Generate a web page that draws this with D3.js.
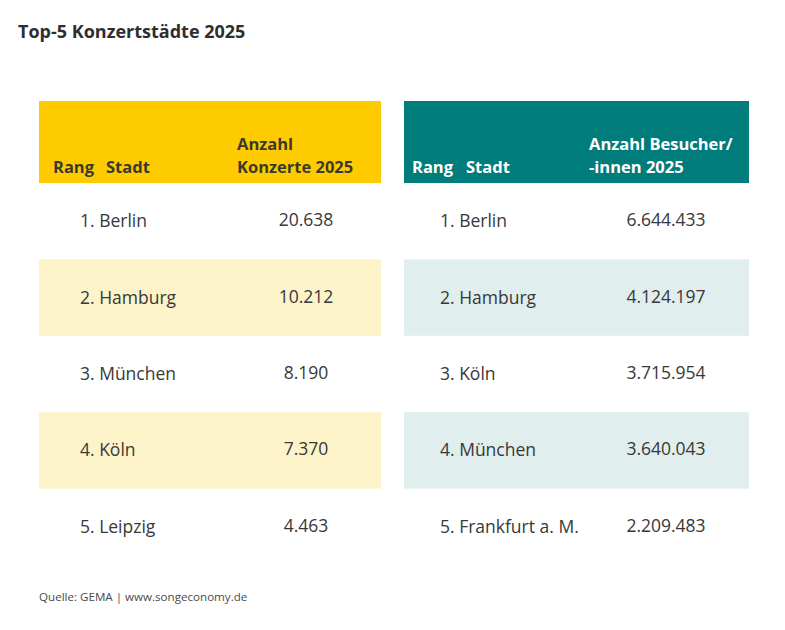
<!DOCTYPE html>
<html><head><meta charset="utf-8">
<script src="https://cdn.jsdelivr.net/npm/d3@7"></script>
<style>body{margin:0;background:#fff}svg{display:block}text{font-family:"Open Sans",sans-serif}</style>
</head><body>
<script>
const ranks = [1,2,3,4,5];
const concertCities = ["Berlin","Hamburg","München","Köln","Leipzig"];
const concerts = [20638,10212,8190,7370,4463];
const visitorCities = ["Berlin","Hamburg","Köln","München","Frankfurt a. M."];
const visitors = [6644433,4124197,3715954,3640043,2209483];
const title = "Top-5 Konzertstädte 2025";
const source = "Quelle: GEMA | www.songeconomy.de";

const de = d3.formatLocale({decimal:",",thousands:".",grouping:[3],currency:["","€"]});
const fmt = de.format(",d");

const W=785,H=630;
const svg=d3.select("body").append("svg").attr("width",W).attr("height",H);
const ink="#383838";

svg.append("text").attr("x",18).attr("y",38).attr("font-size",18).attr("font-weight",700)
  .attr("fill","#2e2e2e").text(title);

const y=d3.scaleBand().domain(ranks).range([183,565]);

const tables=[
 {x0:39,x1:381,head:"#fecb00",band:"#fdf3c8",headInk:"#3a3a2a",rangX:53,stadtX:106,cityX:80,numX:306,
  h1:"Anzahl",h2:"Konzerte 2025",hX:237,cities:concertCities,vals:concerts},
 {x0:404,x1:749,head:"#007c7a",band:"#e0eeed",headInk:"#ffffff",rangX:412,stadtX:466,cityX:440,numX:666,
  h1:"Anzahl Besucher/",h2:"-innen 2025",hX:589,cities:visitorCities,vals:visitors}
];

tables.forEach(t=>{
  const g=svg.append("g");
  g.append("rect").attr("x",t.x0).attr("y",101).attr("width",t.x1-t.x0).attr("height",82).attr("fill",t.head);
  const hs={"font-size":16.5,"font-weight":700,fill:t.headInk};
  const ht=(x,yy,s)=>{const e=g.append("text").attr("x",x).attr("y",yy).text(s);Object.entries(hs).forEach(([k,v])=>e.attr(k,v));};
  ht(t.rangX,173,"Rang");ht(t.stadtX,173,"Stadt");ht(t.hX,150,t.h1);ht(t.hX,173,t.h2);
  const rows=g.selectAll("g.row").data(ranks.map((r,i)=>({r,city:t.cities[i],v:t.vals[i]}))).join("g");
  rows.append("rect").attr("x",t.x0).attr("y",d=>y(d.r)).attr("width",t.x1-t.x0).attr("height",y.bandwidth())
    .attr("fill",d=>d.r%2===0?t.band:"none");
  rows.append("text").attr("x",t.cityX).attr("y",d=>y(d.r)+y.bandwidth()/2+6).attr("font-size",17.5).attr("fill",ink)
    .text(d=>d.r+". "+d.city);
  rows.append("text").attr("x",t.numX).attr("y",d=>y(d.r)+y.bandwidth()/2+5).attr("font-size",17.5).attr("fill",ink)
    .attr("text-anchor","middle").text(d=>fmt(d.v));
});

svg.append("text").attr("x",39).attr("y",601).attr("font-size",11.6).attr("fill","#4a4a4a").text(source);
</script>
</body></html>
